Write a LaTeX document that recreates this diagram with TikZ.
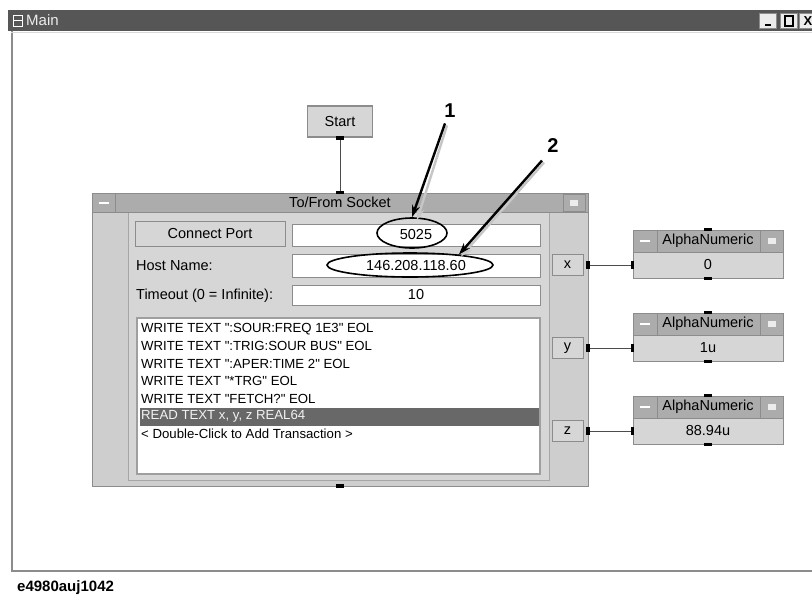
\documentclass[tikz,border=0pt]{standalone}
\usepackage{fontspec}
\setmainfont{Liberation Sans}
\usepackage{xcolor}
\usepackage{tikz}
\usetikzlibrary{shapes,arrows.meta,positioning,calc}

\definecolor{barDark}{RGB}{86,86,86}
\definecolor{panelGray}{RGB}{206,206,206}
\definecolor{innerGray}{RGB}{214,214,214}
\definecolor{titleGray}{RGB}{172,172,172}
\definecolor{edgeGray}{RGB}{140,140,140}
\definecolor{selGray}{RGB}{104,104,104}

\newcommand{\qt}{\textquotedbl}

\begin{document}
\begin{tikzpicture}[x=1pt,y=-1pt,
  ui/.style={font=\fontsize{14.5}{16}\selectfont},
  rowtxt/.style={font=\fontsize{13.2}{15}\selectfont,anchor=west,inner sep=0pt},
  field/.style={draw=edgeGray,fill=white,line width=1pt,inner sep=0pt,ui},
  knob/.style={draw=edgeGray,fill=innerGray,line width=1pt,inner sep=0pt,ui},
  tbar/.style={draw=edgeGray,fill=titleGray,line width=0.8pt,inner sep=0pt,ui},
  pin/.style={fill=black,inner sep=0pt,minimum width=8pt,minimum height=3.5pt},
  pinv/.style={fill=black,inner sep=0pt,minimum width=3.5pt,minimum height=8pt},
  ring/.style={ellipse,draw=black,line width=1.6pt,inner sep=0pt},
  callout/.style={line width=2.4pt,-{Stealth[length=12pt,width=8pt]}},
  wire/.style={draw=black!70,line width=0.6pt}]

\useasboundingbox (0,0) rectangle (812,598);

% Main window
\fill[white] (11,31) rectangle (812,572);
\draw[edgeGray,line width=1.5pt] (12,31) -- (12,571) -- (812,571);
\draw[gray!30,line width=1pt] (11,32) -- (812,32);
\fill[barDark] (8,10) rectangle (812,31);
\node[draw=white,line width=0.8pt,minimum width=9pt,minimum height=11pt,inner sep=0pt] (mainIcon) at (18,20.5) {};
\draw[white,line width=0.6pt] (mainIcon.west) -- (mainIcon.east);
\node[anchor=west,text=gray!15,font=\fontsize{15}{17}\selectfont,inner sep=0pt] (mainTitle) at (26,20.5) {Main};

% Window buttons
\node[knob,fill=gray!15,minimum width=17pt,minimum height=15pt] (btnMin) at (768,21) {};
\node[knob,fill=gray!15,minimum width=17pt,minimum height=15pt] (btnMax) at (789,21) {};
\node[knob,fill=gray!15,minimum width=17pt,minimum height=15pt,font=\bfseries\fontsize{13}{15}\selectfont] (btnClose) at (808,21) {X};
\draw[black,line width=2pt] ($(btnMin.center)+(-3,4)$) -- ++(6,0);
\draw[black,line width=1.2pt] ($(btnMax.center)+(-4,-5)$) rectangle ++(8,10);

% Start
\node[knob,minimum width=65pt,minimum height=31pt,fill=innerGray,line width=1.5pt] (start) at (340,121.5) {Start};
\node[pin] (startOut) at (start.south) {};

% To/From Socket panel
\fill[panelGray] (92,193) rectangle (588,486);
\fill[innerGray] (128,212) rectangle (549,480);
\draw[edgeGray,line width=1pt] (92,193) rectangle (588,486);
\draw[gray!70,line width=1pt] (128,212) -- (128,480) -- (549,480) -- (549,212);
\node[tbar,minimum width=496pt,minimum height=19pt] (sockBar) at (340,202.5) {To/From Socket};
\node[knob,fill=titleGray,minimum width=23pt,minimum height=19pt] (sockMin) at (103.5,202.5) {};
\draw[white,line width=2pt] ($(sockMin.center)+(-5,0)$) -- ++(10,0);
\node[knob,fill=titleGray,minimum width=22pt,minimum height=17pt] (sockMax) at (574,202.5) {};
\fill[gray!15] ($(sockMax.center)+(-4,-3)$) rectangle ++(8,6);
\node[pin] (sockIn) at (sockBar.north) {};
\node[pin] (sockDone) at (340,486) {};

% Start to panel
\draw[wire] (startOut) -- (sockIn);

% Fields
\node[knob,minimum width=150pt,minimum height=25pt] (connectBtn) at (210,233.5) {Connect Port};
\node[field,minimum width=248pt,minimum height=22pt] (portField) at (416,235) {5025};
\node[ui,anchor=west,inner sep=0pt] (hostLbl) at (136,266) {Host Name:};
\node[field,minimum width=248pt,minimum height=23pt] (hostField) at (416,265.5) {146.208.118.60};
\node[ui,anchor=west,inner sep=0pt] (timeLbl) at (136,295.5) {Timeout (0 = Infinite):};
\node[field,minimum width=248pt,minimum height=20pt] (timeField) at (416,295) {10};

% Transactions
\node[draw=gray!75,fill=white,line width=1.5pt,minimum width=403pt,minimum height=156pt,inner sep=0pt] (tList) at (338.5,396) {};
\fill[selGray] (140,408) rectangle (539,426);
\node[rowtxt] (row1) at (141,329) {WRITE TEXT \qt:SOUR:FREQ 1E3\qt{} EOL};
\node[rowtxt] (row2) at (141,346.4) {WRITE TEXT \qt:TRIG:SOUR BUS\qt{} EOL};
\node[rowtxt] (row3) at (141,363.8) {WRITE TEXT \qt:APER:TIME 2\qt{} EOL};
\node[rowtxt] (row4) at (141,381.2) {WRITE TEXT \qt*TRG\qt{} EOL};
\node[rowtxt] (row5) at (141,398.6) {WRITE TEXT \qt FETCH?\qt{} EOL};
\node[rowtxt,text=gray!10] (row6) at (141,416) {READ TEXT x, y, z REAL64};
\node[rowtxt] (row7) at (141,433.4) {< Double-Click to Add Transaction >};

% Outputs
\node[knob,minimum width=31pt,minimum height=21pt] (outX) at (567.5,265) {x};
\node[knob,minimum width=31pt,minimum height=21pt] (outY) at (567.5,348) {y};
\node[knob,minimum width=31pt,minimum height=21pt] (outZ) at (567.5,431) {z};
\node[pinv] (pinX) at (588,265) {};
\node[pinv] (pinY) at (588,348) {};
\node[pinv] (pinZ) at (588,431) {};

% AlphaNumeric x
\node[tbar,minimum width=150pt,minimum height=22pt] (alphaXbar) at (708,241) {AlphaNumeric};
\node[knob,minimum width=150pt,minimum height=26pt] (alphaX) at (708,265) {0};
\node[knob,fill=titleGray,minimum width=24pt,minimum height=22pt] (alphaXmin) at (645,241) {};
\node[knob,fill=titleGray,minimum width=23pt,minimum height=22pt] (alphaXmax) at (771.5,241) {};
\draw[white,line width=2pt] ($(alphaXmin.center)+(-5,0)$) -- ++(10,0);
\fill[gray!15] ($(alphaXmax.center)+(-4,-3)$) rectangle ++(8,6);
\node[pin] at (alphaXbar.north) {};
\node[pin] at (alphaX.south) {};
\node[pinv] (inX) at (alphaX.west) {};

% AlphaNumeric y
\node[tbar,minimum width=150pt,minimum height=22pt] (alphaYbar) at (708,324) {AlphaNumeric};
\node[knob,minimum width=150pt,minimum height=26pt] (alphaY) at (708,348) {1u};
\node[knob,fill=titleGray,minimum width=24pt,minimum height=22pt] (alphaYmin) at (645,324) {};
\node[knob,fill=titleGray,minimum width=23pt,minimum height=22pt] (alphaYmax) at (771.5,324) {};
\draw[white,line width=2pt] ($(alphaYmin.center)+(-5,0)$) -- ++(10,0);
\fill[gray!15] ($(alphaYmax.center)+(-4,-3)$) rectangle ++(8,6);
\node[pin] at (alphaYbar.north) {};
\node[pin] at (alphaY.south) {};
\node[pinv] (inY) at (alphaY.west) {};

% AlphaNumeric z
\node[tbar,minimum width=150pt,minimum height=22pt] (alphaZbar) at (708,407) {AlphaNumeric};
\node[knob,minimum width=150pt,minimum height=26pt] (alphaZ) at (708,431) {88.94u};
\node[knob,fill=titleGray,minimum width=24pt,minimum height=22pt] (alphaZmin) at (645,407) {};
\node[knob,fill=titleGray,minimum width=23pt,minimum height=22pt] (alphaZmax) at (771.5,407) {};
\draw[white,line width=2pt] ($(alphaZmin.center)+(-5,0)$) -- ++(10,0);
\fill[gray!15] ($(alphaZmax.center)+(-4,-3)$) rectangle ++(8,6);
\node[pin] at (alphaZbar.north) {};
\node[pin] at (alphaZ.south) {};
\node[pinv] (inZ) at (alphaZ.west) {};

% Wires
\draw[wire] (pinX) -- (inX);
\draw[wire] (pinY) -- (inY);
\draw[wire] (pinZ) -- (inZ);

% Callouts
\node[ring,minimum width=70pt,minimum height=30pt] (ring1) at (412,233) {};
\node[ring,minimum width=166pt,minimum height=24pt] (ring2) at (410,265) {};
\node[font=\bfseries\fontsize{20}{22}\selectfont] (lab1) at (450,111) {1};
\node[font=\bfseries\fontsize{20}{22}\selectfont] (lab2) at (553,146) {2};
\draw[callout,gray!45] ($(lab1.south)+(-3,4)$) -- ($(ring1.north)+(5,3)$);
\draw[callout] ($(lab1.south)+(-5,2)$) -- (ring1.north);
\draw[callout,gray!45] ($(lab2.south)+(-9,6)$) -- ($(ring2.12)+(2,2)$);
\draw[callout] ($(lab2.south)+(-11,4)$) -- (ring2.12);

% Figure id
\node[anchor=west,font=\bfseries\fontsize{15}{17}\selectfont,inner sep=0pt] (figId) at (17,588) {e4980auj1042};

\end{tikzpicture}
\end{document}
